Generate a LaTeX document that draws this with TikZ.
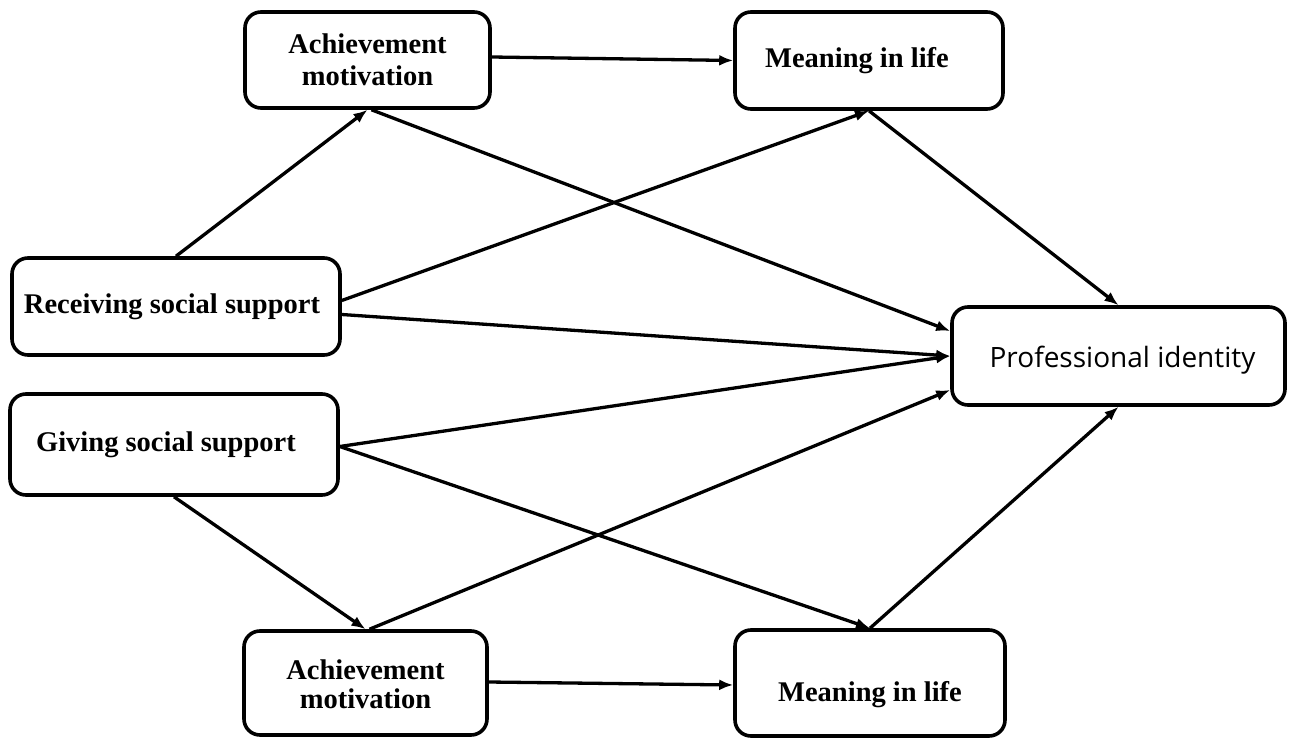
\documentclass[tikz,border=0pt]{standalone}
\usepackage{fontspec}
\setmainfont{Liberation Serif}
\newfontfamily\labelsans{Open Sans}
\usetikzlibrary{arrows.meta}

\begin{document}
\begin{tikzpicture}[x=1pt,y=-1pt,
  box/.style={draw, line width=3.6pt, rounded corners=16pt, fill=white,
    inner sep=0pt, align=center,
    font=\bfseries\fontsize{28.5}{32}\selectfont},
  link/.style={line width=3.3pt, -{Latex[length=14pt,width=11pt]}}]
  \useasboundingbox (0,0) rectangle (1290,738);
  \fill[white] (0,0) rectangle (1290,738);

  % mediators and predictors
  \node[box, minimum width=245pt, minimum height=96pt] (ach1) at (367.5,60)
    {Achievement\\motivation};
  \node[box, minimum width=268pt, minimum height=97pt] (mean1) at (869,60.5)
    {\hspace*{-12pt}Meaning in life\hspace*{12pt}};
  \node[box, minimum width=328pt, minimum height=97pt] (recv) at (176,306.5)
    {\hspace*{-4pt}Receiving social support\hspace*{4pt}};
  \node[box, minimum width=328pt, minimum height=101pt] (give) at (174,444.5)
    {\hspace*{-8pt}Giving social support\hspace*{8pt}};
  \node[box, minimum width=243pt, minimum height=104pt] (ach2) at (365.5,683)
    {\raisebox{-5pt}[\height][\depth]{\begin{tabular}{@{}c@{}}Achievement\\[-3pt]motivation\end{tabular}}};
  \node[box, minimum width=270pt, minimum height=106pt] (mean2) at (870,683)
    {\raisebox{-12pt}[\height][\depth]{Meaning in life}};

  % outcome
  \node[box, minimum width=333pt, minimum height=98pt,
    font=\labelsans\fontsize{28}{32}\selectfont] (prof) at (1118.5,356)
    {\raisebox{-4pt}[\height][\depth]{\hspace*{4pt}Professional identity\hspace*{-4pt}}};

  % paths
  \draw[link] (recv.north) -- (ach1.south);
  \draw[link] ([yshift=3pt]ach1.east) -- (mean1.west);
  \draw[link] ([xshift=4pt]ach1.south) -- ([yshift=25pt]prof.west);
  \draw[link] ([yshift=6pt]recv.east) -- (mean1.south);
  \draw[link] ([yshift=-8pt]recv.east) -- (prof.west);
  \draw[link] ([yshift=-2pt]give.east) -- (prof.west);
  \draw[link] ([yshift=-2pt]give.east) -- (mean2.north);
  \draw[link] (give.south) -- (ach2.north);
  \draw[link] ([xshift=4pt]ach2.north) -- ([yshift=-34pt]prof.west);
  \draw[link] ([yshift=1pt]ach2.east) -- ([yshift=-2pt]mean2.west);
  \draw[link] (mean2.north) -- (prof.south);
  \draw[link] (mean1.south) -- (prof.north);
\end{tikzpicture}
\end{document}
